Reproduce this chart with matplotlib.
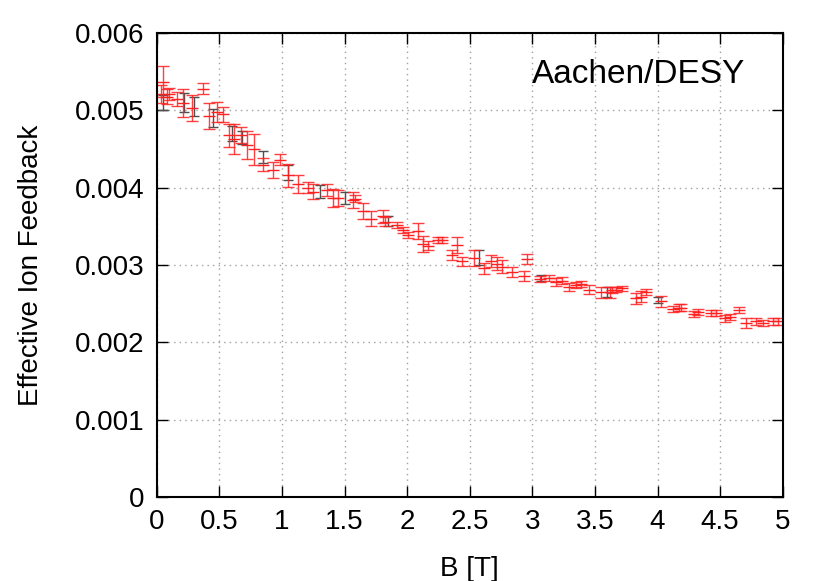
import matplotlib
matplotlib.use("Agg")
import matplotlib.pyplot as plt

plt.rcParams['font.family'] = ['Liberation Sans', 'DejaVu Sans']

# measured points (red)
b_red = [0.03, 0.05, 0.08, 0.10, 0.16, 0.21, 0.28, 0.37, 0.42, 0.48, 0.53,
         0.58, 0.62, 0.67, 0.72, 0.78, 0.85, 0.93, 0.98, 1.05, 1.13, 1.21,
         1.25, 1.36, 1.41, 1.45, 1.57, 1.58, 1.65, 1.71, 1.81, 1.82, 1.92,
         1.97, 2.01, 2.09, 2.13, 2.17, 2.25, 2.28, 2.36, 2.40, 2.44, 2.53,
         2.61, 2.67, 2.72, 2.76, 2.84, 2.93, 2.96, 3.06, 3.13, 3.19, 3.24,
         3.29, 3.35, 3.39, 3.45, 3.55, 3.62, 3.64, 3.67, 3.72, 3.83, 3.87,
         3.91, 4.03, 4.12, 4.17, 4.19, 4.29, 4.32, 4.43, 4.47, 4.54, 4.58,
         4.65, 4.71, 4.79, 4.84, 4.92, 4.96]
ief_red = [0.00521, 0.00537, 0.00518, 0.00521, 0.00515, 0.00510, 0.00503,
           0.00528, 0.00493, 0.00498, 0.00495, 0.00468, 0.00463, 0.00468,
           0.00455, 0.00450, 0.00430, 0.00423, 0.00436, 0.00416, 0.00405,
           0.00400, 0.00395, 0.00397, 0.00387, 0.00387, 0.00384, 0.00386,
           0.00370, 0.00360, 0.00363, 0.00356, 0.00352, 0.00345, 0.00339,
           0.00344, 0.00327, 0.00325, 0.00332, 0.00332, 0.00313, 0.00326,
           0.00305, 0.00309, 0.00296, 0.00305, 0.00302, 0.00298, 0.00291,
           0.00286, 0.00308, 0.00282, 0.00283, 0.00278, 0.00280, 0.00272,
           0.00274, 0.00276, 0.00268, 0.00265, 0.00265, 0.00268, 0.00268,
           0.00270, 0.00257, 0.00259, 0.00265, 0.00253, 0.00243, 0.00245,
           0.00245, 0.00237, 0.00239, 0.00238, 0.00238, 0.00231, 0.00233,
           0.00242, 0.00225, 0.00227, 0.00225, 0.00227, 0.00227]
err_red = [0.00012, 0.00020, 0.00010, 0.00008, 0.00009, 0.00018, 0.00017,
           0.00007, 0.00017, 0.00013, 0.00010, 0.00015, 0.00020, 0.00010,
           0.00018, 0.00020, 0.00008, 0.00010, 0.00007, 0.00015, 0.00012,
           0.00007, 0.00010, 0.00008, 0.00012, 0.00010, 0.00010, 0.00005,
           0.00010, 0.00010, 0.00008, 0.00006, 0.00004, 0.00004, 0.00004,
           0.00010, 0.00010, 0.00006, 0.00004, 0.00004, 0.00006, 0.00010,
           0.00006, 0.00010, 0.00007, 0.00008, 0.00008, 0.00008, 0.00006,
           0.00006, 0.00006, 0.00004, 0.00004, 0.00005, 0.00004, 0.00005,
           0.00004, 0.00004, 0.00006, 0.00007, 0.00007, 0.00004, 0.00003,
           0.00003, 0.00007, 0.00007, 0.00004, 0.00007, 0.00004, 0.00004,
           0.00004, 0.00004, 0.00004, 0.00004, 0.00004, 0.00005, 0.00004,
           0.00004, 0.00006, 0.00005, 0.00004, 0.00004, 0.00004]

# darker points
b_dark = [0.05, 0.22, 0.30, 0.45, 0.60, 0.68, 0.85, 1.05, 1.30, 1.50, 1.85,
          2.57, 3.07, 3.60, 4.00]
ief_dark = [0.00510, 0.00510, 0.00505, 0.00490, 0.00470, 0.00465, 0.00440,
            0.00420, 0.00395, 0.00387, 0.00357, 0.00310, 0.00283, 0.00265,
            0.00255]
err_dark = [0.00010, 0.00012, 0.00012, 0.00012, 0.00010, 0.00008, 0.00008,
            0.00010, 0.00008, 0.00008, 0.00006, 0.00010, 0.00004, 0.00006,
            0.00004]

fig = plt.figure(figsize=(8.3, 5.81), dpi=100)
ax = fig.add_axes([0.189, 0.1446, 0.754, 0.7984])

ax.errorbar(b_dark, ief_dark, yerr=err_dark, fmt='none', ecolor='#505050',
            elinewidth=1, capsize=3.5, capthick=1)
ax.errorbar(b_red, ief_red, yerr=err_red, fmt='none', ecolor='#ff2020',
            elinewidth=1, capsize=4, capthick=1, alpha=0.85)
ax.plot(b_red, ief_red, '_', color='#ff2020', ms=8, mew=1)

ax.set_xlim(0, 5)
ax.set_ylim(0, 0.006)
ax.set_xticks([0, 0.5, 1, 1.5, 2, 2.5, 3, 3.5, 4, 4.5, 5])
ax.set_xticklabels(['0', '0.5', '1', '1.5', '2', '2.5', '3', '3.5', '4', '4.5', '5'])
ax.set_yticks([0, 0.001, 0.002, 0.003, 0.004, 0.005, 0.006])
ax.set_yticklabels(['0', '0.001', '0.002', '0.003', '0.004', '0.005', '0.006'])
ax.grid(True, color='#a0a0a0', linestyle=(0, (1, 3)), linewidth=1)
ax.tick_params(direction='in', length=8, width=1, labelsize=20, pad=9,
               top=True, right=True)
for s in ax.spines.values():
    s.set_linewidth(1.5)

ax.set_xlabel('B [T]', fontsize=20, labelpad=15)
ax.set_ylabel('Effective Ion Feedback', fontsize=20, labelpad=22)
ax.text(0.94, 0.91, 'Aachen/DESY', transform=ax.transAxes, fontsize=24,
        ha='right', va='center')

fig.savefig('out.png', dpi=100)
